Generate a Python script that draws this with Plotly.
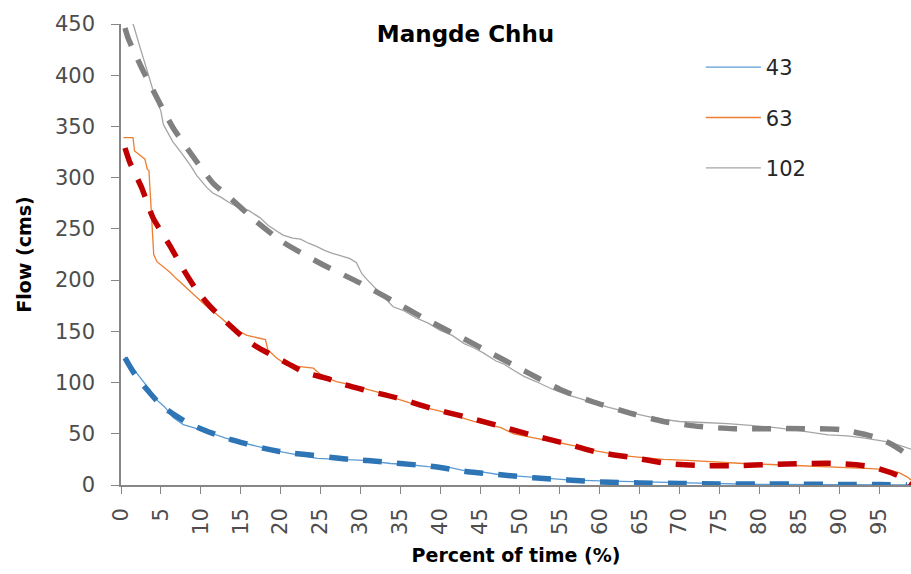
import plotly.graph_objects as go

# Flow-duration data for Mangde Chhu: percent of time vs flow (cms)
pct_43 = [0.5, 1.2, 2.0, 2.8, 3.6, 4.2, 4.9, 5.5, 6.5, 7.8, 9.5, 11.2, 13.0, 15.3, 17.5, 20.3,
          22.5, 24.6, 27.5, 30.4, 33.8, 35.9, 38.5, 41.3, 43.0, 45.0, 47.5, 50.9, 53.0, 56.0,
          60.0, 65.1, 70.0, 75.0, 80.0, 90.0, 99.0]
flow_43 = [125, 117, 109, 101, 93, 85, 80, 76, 66, 59, 55, 51, 46, 41, 37, 32,
           29, 26, 25, 24, 21, 20, 18, 17, 14, 13, 10, 8, 7, 5,
           4, 3, 2, 1, 0.5, 0.3, 0]

pct_63 = [0.3, 1.5, 1.7, 2.4, 3.0, 3.3, 3.5, 3.7, 3.9, 4.1, 4.5, 5.2, 6.1, 7.0, 8.0, 9.0,
          10.5, 12.4, 14.0, 15.8, 17.0, 18.1, 18.4, 19.5, 20.8, 22.0, 24.1, 25.3, 27.0, 28.7,
          30.5, 32.5, 33.8, 36.0, 37.9, 40.0, 42.0, 44.2, 46.0, 47.6, 49.2, 51.0, 53.0, 55.1,
          57.0, 59.0, 61.0, 62.6, 65.1, 68.0, 71.0, 75.0, 78.0, 81.4, 85.0, 88.0, 91.8, 94.0,
          96.1, 97.5, 98.5, 99.0]
flow_63 = [339, 339, 326, 322, 318, 308, 307, 280, 250, 225, 218, 214, 208, 201, 194, 187,
           176, 164, 153, 146, 144, 142, 132, 124, 117, 116, 114, 106, 101, 98,
           94, 90, 86, 81, 76, 72, 67, 62, 59, 56, 50, 47, 44, 41,
           38, 34, 31, 29, 27, 25, 24, 22, 21, 20, 19, 18, 17, 16,
           15, 12, 8, 5]

pct_102 = [1.2, 1.6, 2.2, 2.8, 3.5, 4.3, 5.0, 5.3, 5.8, 6.5, 7.5, 8.7, 9.5, 10.8, 11.5, 12.5,
           13.7, 15.0, 16.0, 17.4, 18.5, 20.3, 21.5, 22.5, 23.5, 24.5, 25.5, 26.5, 27.5, 28.7,
           29.5, 30.2, 30.9, 32.0, 33.0, 34.1, 35.5, 37.0, 38.5, 40.0, 41.5, 43.0, 44.2, 45.4,
           47.0, 48.0, 49.2, 50.5, 52.0, 54.2, 56.0, 58.0, 59.2, 61.0, 63.0, 65.1, 66.5, 68.0,
           70.0, 73.0, 76.0, 79.3, 82.0, 85.0, 88.6, 91.0, 93.0, 96.1, 97.5, 99.0]
flow_102 = [456, 448, 432, 417, 398, 378, 365, 352, 345, 335, 325, 312, 302, 290, 285, 281,
            275, 270, 268, 261, 253, 244, 241, 240, 236, 233, 229, 226, 224, 221,
            217, 206, 200, 191, 182, 174, 170, 163, 158, 151, 146, 138, 134, 129,
            121, 118, 112, 106, 101, 93, 88, 83, 80, 76, 72, 68, 66, 64,
            62, 61, 60, 58, 56, 53, 49, 48, 46, 42, 39, 35]

# Fitted curves
fit_pct_43 = [0.5, 1.4, 2.5, 3.6, 5.0, 6.8, 8.5, 10.3, 12.0, 13.9, 15.8, 17.8, 19.7, 21.6, 24.0,
              26.2, 28.5, 30.9, 35.0, 39.1, 43.4, 47.6, 51.7, 56.0, 60.1, 65.0, 70.0, 75.0,
              80.0, 85.0, 90.0, 95.0, 98.5]
fit_flow_43 = [124, 112, 100, 90, 78, 68, 60, 54, 49, 44, 40, 36, 33, 31, 29,
               27, 25, 24, 21, 18, 13, 10, 7, 5, 3, 2, 1.5, 1,
               1, 0.8, 0.6, 0.5, 0]

fit_pct_63 = [0.5, 1.1, 2.6, 4.0, 6.1, 8.0, 9.5, 11.2, 13.9, 15.5, 17.2, 20.8, 23.0, 25.8, 28.0,
              30.4, 34.6, 38.8, 43.4, 47.2, 51.3, 55.5, 59.7, 63.9, 68.5, 72.6, 77.3, 81.4,
              85.6, 89.8, 94.0, 96.5, 97.7, 98.6, 99.0]
fit_flow_63 = [329, 315, 290, 261, 234, 208, 190, 174, 154, 143, 134, 119, 110, 104, 98,
               93, 85, 75, 66, 58, 49, 41, 32, 27, 21, 19, 19, 20,
               21, 21, 18, 12, 8, 2, 0]

fit_pct_102 = [0.5, 0.9, 2.6, 4.5, 6.5, 8.9, 11.5, 13.7, 17.0, 20.3, 25.3, 30.0, 33.8, 38.4,
               42.9, 46.3, 50.9, 55.1, 59.2, 63.9, 68.0, 72.6, 76.8, 81.4, 85.6, 90.2, 94.4,
               96.5, 98.1, 99.0]
fit_flow_102 = [446, 436, 407, 378, 349, 322, 295, 280, 257, 237, 215, 197, 181, 161,
                143, 129, 110, 93, 81, 70, 62, 57, 55, 55, 55, 54, 47,
                40, 32, 27]

series_names = ["43", "63", "102"]
solid_colors = ["#5b9bd5", "#ed7d31", "#a5a5a5"]
fit_colors = ["#2e75b6", "#c00000", "#808080"]

x_ticks = list(range(0, 100, 5))
y_ticks = list(range(0, 451, 50))

TICK_FONT = dict(family="DejaVu Sans", size=21, color="#4d4d4d")
TITLE_FONT = dict(family="DejaVu Sans", size=19, color="#000000", weight="bold")

fig = go.Figure()

observed = [(pct_43, flow_43), (pct_63, flow_63), (pct_102, flow_102)]
fitted = [(fit_pct_43, fit_flow_43), (fit_pct_63, fit_flow_63), (fit_pct_102, fit_flow_102)]

for i, (xs, ys) in enumerate(observed):
    fig.add_trace(go.Scatter(
        x=xs, y=ys, mode="lines", name=series_names[i],
        line=dict(color=solid_colors[i], width=1.3),
        legendgroup=series_names[i],
    ))

for i, (xs, ys) in enumerate(fitted):
    fig.add_trace(go.Scatter(
        x=xs, y=ys, mode="lines", showlegend=False,
        line=dict(color=fit_colors[i], width=5.5, dash="19px,15px", shape="spline", smoothing=0.6),
    ))

fig.update_layout(
    width=911, height=574,
    margin=dict(l=121, r=0, t=24, b=89),
    paper_bgcolor="white", plot_bgcolor="white",
    title=dict(text="Mangde Chhu", x=0.511, xanchor="center", y=0.94, yanchor="middle",
               font=dict(family="DejaVu Sans", size=23, color="#000000", weight="bold")),
    legend=dict(x=0.734, y=0.95, xanchor="left", yanchor="top",
                font=dict(family="DejaVu Sans", size=21, color="#262626"),
                bgcolor="rgba(0,0,0,0)", tracegroupgap=20, traceorder="grouped",
                itemwidth=55),
    showlegend=True,
)

fig.update_xaxes(
    range=[0, 99], tickmode="array", tickvals=x_ticks, ticktext=[str(v) for v in x_ticks],
    tickangle=-90, ticks="outside", ticklen=7, tickcolor="#868686", tickwidth=1,
    showline=True, linecolor="#868686", linewidth=1.5, showgrid=False, zeroline=False,
    tickfont=TICK_FONT, ticklabelstandoff=6,
    title=dict(text="Percent of time (%)", font=TITLE_FONT, standoff=15),
)
fig.update_yaxes(
    range=[0, 450], tickmode="array", tickvals=y_ticks,
    ticks="outside", ticklen=8, tickcolor="#868686", tickwidth=1,
    showline=True, linecolor="#868686", linewidth=1.5, showgrid=False, zeroline=False,
    tickfont=TICK_FONT, ticklabelstandoff=12,
    title=dict(text="Flow (cms)", font=TITLE_FONT, standoff=18),
)

fig.write_html("out.html")
